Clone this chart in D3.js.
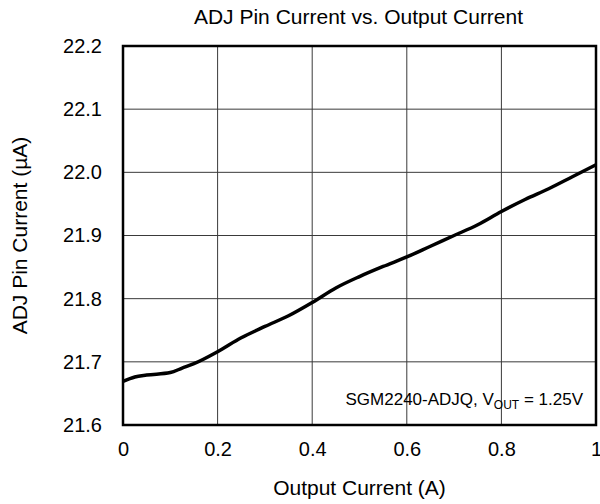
<!DOCTYPE html>
<html>
<head>
<meta charset="utf-8">
<script src="https://cdn.jsdelivr.net/npm/d3@7"></script>
<style>
  body { margin: 0; background: #fff; }
  text { font-family: Arial, "Liberation Sans", sans-serif; fill: #000; }
</style>
</head>
<body>
<script>
// data
var outputCurrent = [0, 0.025, 0.05, 0.1, 0.125, 0.15, 0.2, 0.25, 0.3, 0.35, 0.4, 0.45, 0.5, 0.55, 0.6, 0.65, 0.7, 0.75, 0.8, 0.85, 0.9, 0.95, 1.0];
var adjCurrent = [21.669, 21.676, 21.679, 21.683, 21.690, 21.697, 21.716, 21.738, 21.756, 21.773, 21.794, 21.817, 21.835, 21.851, 21.866, 21.883, 21.900, 21.917, 21.938, 21.957, 21.974, 21.993, 22.012];
var xTicks = [0, 0.2, 0.4, 0.6, 0.8, 1];
var yTicks = [21.6, 21.7, 21.8, 21.9, 22.0, 22.1, 22.2];

var margin = {top: 46, right: 4, bottom: 79, left: 123},
width = 600 - margin.left - margin.right,
height = 504 - margin.top - margin.bottom;

var x = d3.scaleLinear().domain([0, 1]).range([0, width]);
var y = d3.scaleLinear().domain([21.6, 22.2]).range([height, 0]);

var svg = d3.select("body").append("svg")
.attr("width", 600)
.attr("height", 504);

var g = svg.append("g")
.attr("transform", "translate(" + margin.left + "," + margin.top + ")");

// grid
g.append("g").selectAll("line").data(xTicks.slice(1, -1)).enter().append("line")
.attr("x1", function(d) { return x(d); }).attr("x2", function(d) { return x(d); })
.attr("y1", 0).attr("y2", height)
.attr("stroke", "#3a3a3a").attr("stroke-width", 1);
g.append("g").selectAll("line").data(yTicks.slice(1, -1)).enter().append("line")
.attr("y1", function(d) { return y(d); }).attr("y2", function(d) { return y(d); })
.attr("x1", 0).attr("x2", width)
.attr("stroke", "#3a3a3a").attr("stroke-width", 1);

// axes labels
var xAxis = g.append("g")
.attr("transform", "translate(0," + height + ")")
.call(d3.axisBottom(x).tickValues(xTicks).tickSize(0).tickPadding(17).tickFormat(function(d) { return d === 0 || d === 1 ? d : d3.format(".1f")(d); }));
xAxis.select(".domain").remove();
xAxis.selectAll("text").style("font-size", "20px").attr("font-family", null);

var yAxis = g.append("g")
.call(d3.axisLeft(y).tickValues(yTicks).tickSize(0).tickPadding(21).tickFormat(d3.format(".1f")));
yAxis.select(".domain").remove();
yAxis.selectAll("text").style("font-size", "20px").attr("font-family", null);

// curve
var line = d3.line()
.x(function(d, i) { return x(outputCurrent[i]); })
.y(function(d) { return y(d); })
.curve(d3.curveMonotoneX);

g.append("path")
.datum(adjCurrent)
.attr("fill", "none")
.attr("stroke", "#000")
.attr("stroke-width", 3.5)
.attr("d", line);

// frame
g.append("rect")
.attr("width", width).attr("height", height)
.attr("fill", "none").attr("stroke", "#000").attr("stroke-width", 2.5);

// titles
svg.append("text")
.attr("x", margin.left + width / 2 - 1).attr("y", 24)
.attr("text-anchor", "middle").style("font-size", "21px")
.text("ADJ Pin Current vs. Output Current");

svg.append("text")
.attr("x", margin.left + width / 2).attr("y", 495)
.attr("text-anchor", "middle").style("font-size", "21px")
.text("Output Current (A)");

svg.append("text")
.attr("transform", "translate(27," + (margin.top + height / 2) + ") rotate(-90)")
.attr("text-anchor", "middle").style("font-size", "21px")
.text("ADJ Pin Current (µA)");

var note = g.append("text")
.attr("x", width - 13).attr("y", height - 20)
.attr("text-anchor", "end").style("font-size", "17px");
note.append("tspan").text("SGM2240-ADJQ, V");
note.append("tspan").attr("dy", 4).style("font-size", "12px").text("OUT");
note.append("tspan").attr("dy", -4).text(" = 1.25V");
</script>
</body>
</html>
